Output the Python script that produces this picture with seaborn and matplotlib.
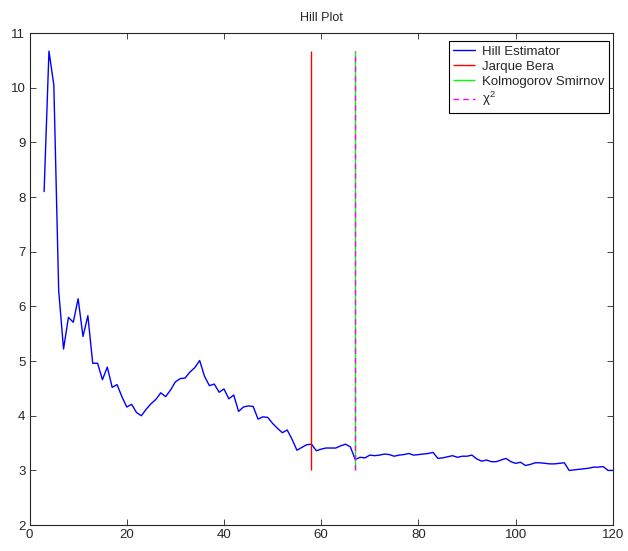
import numpy as np
import pandas as pd
import seaborn as sns
import matplotlib
matplotlib.use("Agg")
import matplotlib.pyplot as plt

# Hill estimator for k = 3 .. 120
k = list(range(3, 121))
hill = [
    8.10, 10.67, 10.05, 6.29, 5.22, 5.80, 5.71, 6.14, 5.45, 5.83,   # 3-12
    4.96, 4.96, 4.66, 4.89, 4.52, 4.57, 4.35, 4.16, 4.21, 4.06,     # 13-22
    4.00, 4.12, 4.22, 4.30, 4.42, 4.35, 4.47, 4.62, 4.68, 4.69,     # 23-32
    4.80, 4.88, 5.01, 4.72, 4.55, 4.58, 4.43, 4.49, 4.31, 4.38,     # 33-42
    4.08, 4.16, 4.18, 4.17, 3.94, 3.98, 3.97, 3.86, 3.77, 3.69,     # 43-52
    3.74, 3.57, 3.37, 3.42, 3.47, 3.48, 3.36, 3.39, 3.41, 3.41,     # 53-62
    3.41, 3.45, 3.48, 3.43, 3.20, 3.24, 3.23, 3.28, 3.27, 3.28,     # 63-72
    3.30, 3.29, 3.26, 3.28, 3.29, 3.31, 3.28, 3.29, 3.30, 3.31,     # 73-82
    3.33, 3.22, 3.23, 3.25, 3.27, 3.24, 3.26, 3.26, 3.28, 3.21,     # 83-92
    3.17, 3.19, 3.16, 3.16, 3.19, 3.22, 3.16, 3.13, 3.15, 3.09,     # 93-102
    3.11, 3.14, 3.14, 3.13, 3.12, 3.12, 3.13, 3.14, 3.00, 3.01,     # 103-112
    3.02, 3.03, 3.04, 3.06, 3.06, 3.07, 3.00, 3.00,                 # 113-120
]

# selected thresholds from the tests
k_jb = 58
k_ks = 67
k_chi2 = 67
line_bottom = 3.0

df = pd.DataFrame({"k": k, "hill": hill})

sns.set_style("ticks")
plt.rcParams["font.family"] = ["Liberation Sans", "DejaVu Sans"]
plt.rcParams["font.size"] = 9.5
plt.rcParams["mathtext.fontset"] = "custom"
plt.rcParams["mathtext.rm"] = "Liberation Sans"
plt.rcParams["mathtext.it"] = "Liberation Sans"

fig = plt.figure(figsize=(6.28, 5.51), dpi=100)
ax = fig.add_axes([0.047, 0.047, 0.929, 0.893])

sns.lineplot(data=df, x="k", y="hill", ax=ax, color="blue", lw=1, label="Hill Estimator")
top = max(hill)
ax.vlines(k_jb, line_bottom, top, color="red", lw=1, label="Jarque Bera")
ax.vlines(k_ks, line_bottom, top, color="lime", lw=1, label="Kolmogorov Smirnov")
ax.vlines(k_chi2, line_bottom, top, color="magenta", lw=1, linestyles=(0, (4, 3)), label=r"$\chi^2$")

ax.set_xlim(0, 120)
ax.set_ylim(2, 11)
ax.set_xticks(range(0, 121, 20))
ax.set_yticks(range(2, 12))
ax.set_xlabel("")
ax.set_ylabel("")
ax.set_title("Hill Plot", fontsize=9, pad=9)
ax.tick_params(direction="in", top=True, right=True, length=4, width=0.6,
               labelsize=9.5, pad=3)
for s in ax.spines.values():
    s.set_linewidth(0.8)
    s.set_visible(True)

leg = ax.legend(loc="upper right", bbox_to_anchor=(0.994, 0.984), borderaxespad=0,
                fancybox=False, edgecolor="black", framealpha=1, fontsize=9.5,
                handlelength=1.6, handletextpad=0.6, labelspacing=0.2, borderpad=0.35)
leg.get_frame().set_linewidth(0.8)

fig.savefig("out.png", dpi=100)
